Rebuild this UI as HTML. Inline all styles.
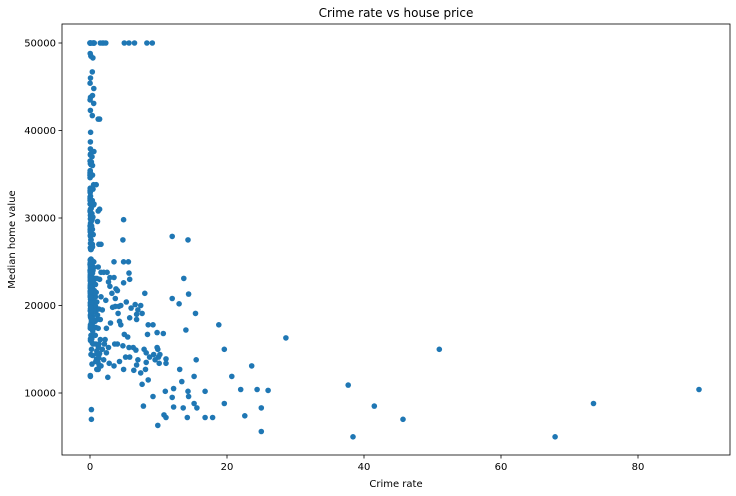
<!DOCTYPE html>
<html><head><meta charset="utf-8"><style>
html,body{margin:0;padding:0;background:#fff;}
svg{display:block;font-family:"DejaVu Sans","Liberation Sans",sans-serif;}
</style></head><body>
<svg id="chart" width="736" height="496"></svg>
<script>
const crimeRate = [
0.01,0.03,0.03,0.03,0.07,0.03,0.09,0.14,0.21,0.17,
0.22,0.12,0.63,0.64,0.63,0.8,0.72,0.85,0.67,0.75,
0.84,0.67,1.23,0.99,0.84,0.95,0.77,1.0,1.05,0.8,
1.0,1.13,1.35,1.38,1.15,0.06,0.06,0.04,0.02,0.01,
0.01,0.13,0.14,0.16,0.13,0.17,0.19,0.14,0.15,0.13,
0.09,0.2,0.25,0.14,0.17,0.03,0.03,0.02,0.05,0.07,
0.07,0.08,0.08,0.09,0.05,0.04,0.05,0.04,0.04,0.11,
0.11,0.1,0.11,0.08,0.11,0.09,0.08,0.14,0.09,0.05,
0.04,0.03,0.05,0.05,0.04,0.04,0.11,0.11,0.12,0.09,
0.21,0.35,0.17,0.22,0.3,0.05,0.05,0.06,0.08,0.1,
0.13,0.21,0.13,0.11,0.16,0.1,0.13,0.11,0.12,0.13,
0.16,0.17,0.11,0.12,0.17,0.22,0.18,0.29,0.26,0.27,
0.21,0.17,0.3,0.35,0.39,0.3,0.33,0.26,0.23,0.35,
0.26,0.26,0.52,0.38,0.48,0.2,0.36,0.39,0.29,0.32,
1.4,0.17,0.2,0.35,0.2,0.02,0.05,0.46,0.56,0.0,
0.08,0.08,0.14,0.19,0.14,0.28,0.19,0.2,0.07,0.13,
0.06,0.06,0.06,0.09,0.07,0.06,0.07,0.16,0.17,0.52,
0.33,0.29,0.36,0.29,0.28,0.21,0.18,0.24,0.37,0.44,
0.06,0.02,0.02,0.03,0.04,0.06,0.13,0.54,0.45,0.5,
0.6,0.33,0.52,0.51,0.82,0.45,0.47,0.36,0.3,0.19,
0.35,0.62,0.5,0.36,0.24,0.16,0.15,0.56,0.58,0.57,
0.58,0.33,0.52,0.5,0.3,0.33,0.43,0.22,0.44,0.34,
0.16,0.2,0.14,0.11,0.2,0.15,0.13,0.06,0.19,0.18,
0.36,0.61,0.37,0.42,0.52,0.54,0.03,0.06,0.02,0.04,
0.03,0.01,0.01,0.07,0.05,0.03,0.06,0.01,0.02,0.01,
0.04,0.02,0.01,0.01,0.02,0.03,0.08,0.02,0.02,0.04,
0.09,0.04,0.05,0.03,0.04,0.07,0.08,0.05,0.06,0.07,
0.07,0.14,0.07,0.04,0.05,0.1,0.1,0.1,0.15,0.07,
0.12,0.06,0.08,0.05,0.05,0.08,0.08,0.12,0.06,0.04,
0.05,0.06,0.2,0.2,
1.2,1.6,4.9,4.8,12,14.3,13.7,14.4,12,13,15.4,18.8,28.6,51,19.6,14,16.8,17.9,20.7,22,23.6,24.4,25,25,26,22.6,19.6,37.7,38.4,41.5,45.7,67.9,73.5,88.9,9.9,11.1,12.2,13.6,14.2,14.3,15.2,15.6,16.8,9.2,10.8,12,13.4,14.4,15.2,15.5,13.1,12.2,11,10.1,10,10.2,11.1,11.1,9.9,9.8,9.3,9.5,8.7,8.5,8.1,8.2,7.8,7.6,7.4,7,6.8,6.7,6.4,5.8,5.7,5.2,4.9,4.8,4.5,4.3,4,3.6,3.5,2.8,2.6,2.4,2,2.1,2.2,2.7,3.3,3.7,4.1,4.2,4.5,3.8,3.5,4,4.9,5.7,5.8,5.6,4.9,3.5,2.9,2.5,2.7,2.9,3.2,3.7,5.3,6,6.6,7,7.4,8,7.6,6.8,8.5,8.4,9.2,9.8,10.7,7.9,8.2,6.3,5,5.5,6.8,5.8,4.3,3,2.4,1.8,1.6,2.3,1.4,1.6,2,1.2,1.3,1.5,1.1,1.2,1.5,1.3,1.4,1.6,1.1,1.2,1.3,1.8,1,0.9,0.8,1,1.3,1.1,1.2,1.4,0.9,1.8,
1.5,2.0,2.3,5.0,5.7,6.5,8.3,9.1
];
const medianValue = [
24,21.6,34.7,33.4,36.2,28.7,22.9,27.1,16.5,18.9,
15,18.9,21.7,20.4,18.2,19.9,23.1,17.5,20.2,18.2,
13.6,19.6,15.2,14.5,15.6,13.9,16.6,14.8,18.4,21,
12.7,14.5,13.2,13.1,13.5,18.9,20,21,24.7,30.8,
34.9,26.6,25.3,24.7,21.2,19.3,20,16.6,14.4,19.4,
19.7,20.5,25,23.4,18.9,35.4,24.7,31.6,23.3,19.6,
18.7,16,22.2,25,33,23.5,19.4,22,17.4,20.9,
24.2,21.7,22.8,23.4,24.1,21.4,20,20.8,21.2,20.3,
28,23.9,24.8,22.9,23.9,26.6,22.5,22.2,23.6,28.7,
22.6,22,22.9,25,20.6,28.4,21.4,38.7,43.8,33.2,
27.5,26.5,18.6,19.3,20.1,19.5,19.5,20.4,19.8,19.4,
21.7,22.8,18.8,18.7,18.5,18.3,21.2,19.2,20.4,19.3,
22,20.3,20.5,17.3,18.8,21.4,15.7,16.2,18,14.3,
19.2,19.6,23,18.4,15.6,18.1,17.4,17.1,13.3,17.8,
41.3,24.3,23.3,27,50,50,50,22.7,25,50,
23.8,23.8,22.3,17.4,19.1,23.1,23.6,22.6,29.4,23.2,
24.6,29.9,37.2,39.8,36.2,37.9,32.5,26.4,29.6,50,
32,29.8,34.9,37,30.5,36.4,31.1,29.1,50,33.3,
30.3,34.6,34.9,32.9,24.1,42.3,48.5,50,22.6,24.4,
22.5,24.4,20,21.7,19.3,22.4,28.1,23.7,25,23.3,
28.7,21.5,23,26.7,21.7,27.5,30.1,44.8,50,37.6,
31.6,46.7,31.5,24.3,31.7,41.7,48.3,29,24,25.1,
31.5,23.7,23.3,22,20.1,22.2,23.7,17.6,18.5,24.3,
44,50,36,30.1,33.8,43.1,48.8,31,36.5,22.8,
30.7,50,43.5,20.7,21.1,25.2,24.4,35.2,32.4,32,
33.2,33.1,29.1,35.1,45.4,35.4,46,50,32.2,22,
20.1,23.2,22.3,24.8,28.5,37.3,27.9,23.9,21.7,28.6,
27.1,20.3,22.5,29,24.8,22,26.4,33.1,36.1,28.4,
16.1,22.1,19.4,21.6,23.8,16.2,17.8,19.8,23.1,21,
12,11.9,7,8.1,
41.3,27,29.8,27.5,27.9,27.5,23.1,21.3,20.8,20.2,19.1,17.8,16.3,15,15,17.2,10.2,7.2,11.9,10.4,13.1,10.4,8.3,5.6,10.3,7.4,8.8,10.9,5,8.5,7,5,8.8,10.4,6.3,7.2,8.4,8.3,7.2,10.2,8.8,8.3,7.2,9.6,7.5,9.5,11.3,9.6,11.9,13.8,12.7,10.5,10.2,13.4,14.1,14.4,13.4,13.9,15,15.2,14.4,13.8,14.1,11.5,12.7,13.5,8.5,11,12.3,13.8,13.2,14.9,12.6,14.1,15.2,14.1,12.7,15.4,17.8,13.6,15.6,15.6,13.1,13.4,11.8,14.6,13.8,15.6,16.1,15.2,19.8,19.9,19.1,19.9,20,21.9,23.2,21.7,22.6,23.7,23,25,25,25,23.2,23.8,22.7,22.2,21.4,20.8,20.4,19.7,20.1,19.5,20,21.4,19.1,19,17.8,16.7,17.8,16.9,16.8,15,14.6,15.2,16.7,16.4,18.4,18.6,18.2,18,17.4,19.5,21,20.6,23,23.8,23.8,24.4,19.6,18.4,18.9,17.4,16.1,15.6,14.5,13.1,13.6,12.7,14,15,20.4,21.5,22.4,23.1,27,29.6,30.8,31,33.8,50,
50,50,50,50,50,50,50,50
];
const xTicks = [0,20,40,60,80];
const yTicks = [10000,20000,30000,40000,50000];

const NS="http://www.w3.org/2000/svg";
const svg=document.getElementById('chart');
const L=62,R=730,T=24,B=455;
function xs(v){return 90+v*6.85;}
function ys(v){return 393-(v-10000)*0.00875;}
function mk(tag,attrs,parent){const e=document.createElementNS(NS,tag);for(const k in attrs)e.setAttribute(k,attrs[k]);(parent||svg).appendChild(e);return e;}

const pts=mk('g',{});


const n=Math.min(crimeRate.length,medianValue.length);
for(let i=0;i<n;i++){
  const c=mk('circle',{cx:xs(crimeRate[i]).toFixed(1),cy:ys(medianValue[i]*1000).toFixed(1),r:2.8,fill:'#1f77b4'},pts);
  
  
}
const frame=mk('rect',{x:L,y:T,width:R-L,height:B-T,fill:'none',stroke:'#000','stroke-width':0.8});



xTicks.forEach(t=>{
  const x=xs(t);
  const tk=mk('line',{x1:x,x2:x,y1:B,y2:B+3.5,stroke:'#000','stroke-width':0.8});
  
  
  const tx=mk('text',{x:x,y:B+15,'text-anchor':'middle','font-size':10,fill:'#000'});
  tx.textContent=t;
  
  
});
yTicks.forEach(t=>{
  const y=ys(t);
  const tk=mk('line',{x1:L-3.5,x2:L,y1:y,y2:y,stroke:'#000','stroke-width':0.8});
  
  
  const tx=mk('text',{x:L-6,y:y+3.5,'text-anchor':'end','font-size':10,fill:'#000'});
  tx.textContent=t;
  
  
});
const title=mk('text',{x:(L+R)/2,y:17,'text-anchor':'middle','font-size':12,fill:'#000'});
title.textContent='Crime rate vs house price';


const xl=mk('text',{x:(L+R)/2,y:487,'text-anchor':'middle','font-size':10,fill:'#000'});
xl.textContent='Crime rate';


const yl=mk('text',{x:15,y:(T+B)/2,'text-anchor':'middle','font-size':10,fill:'#000',transform:'rotate(-90 15 '+((T+B)/2)+')'});
yl.textContent='Median home value';


</script>
</body></html>
